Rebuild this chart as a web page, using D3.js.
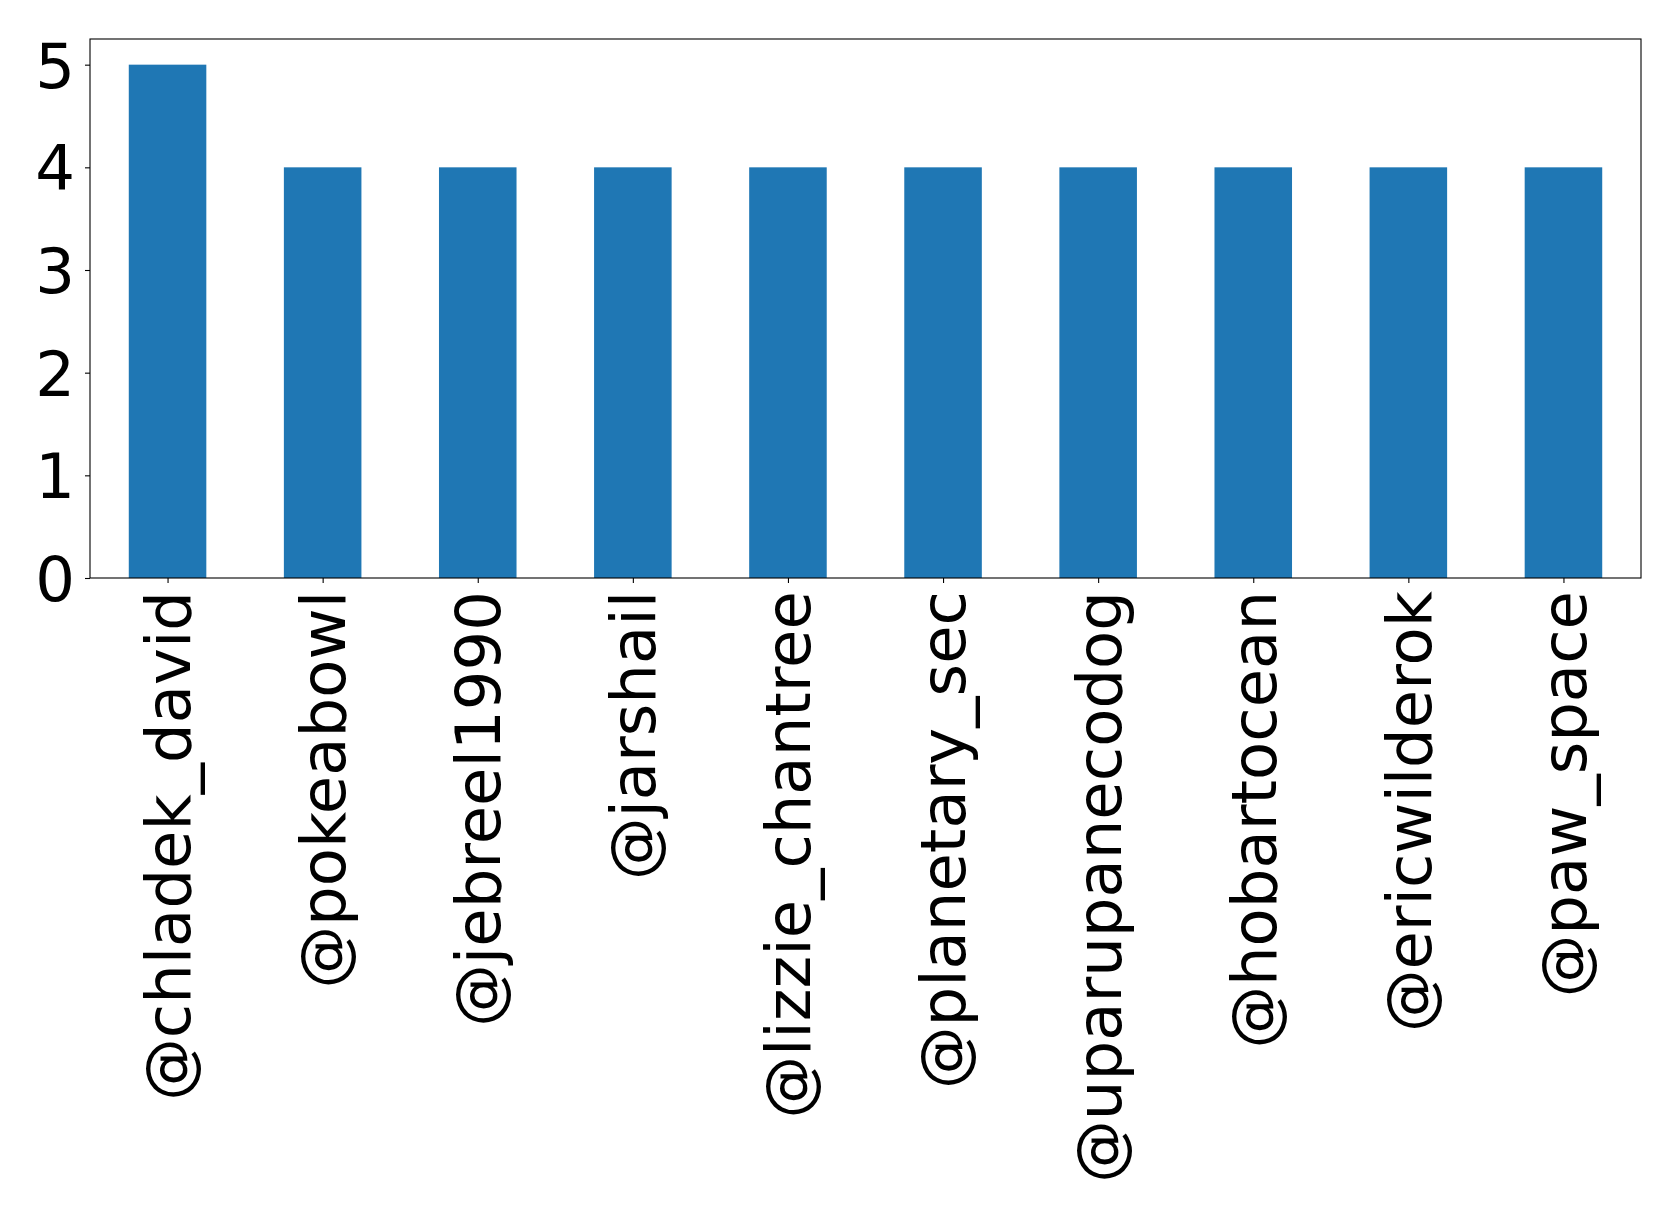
<!DOCTYPE html>
<meta charset="utf-8">
<style>

body {
  margin: 0;
  background: #fff;
}

.axis path,
.axis line {
  fill: none;
  stroke: #000;
  stroke-width: 1.1px;
}

.axis text {
  font-family: "DejaVu Sans", sans-serif;
  font-size: 62.5px;
  fill: #000;
}

.bar {
  fill: #1f77b4;
}

</style>
<body>
<svg width="1679" height="1219"></svg>
<script src="https://d3js.org/d3.v7.min.js"></script>
<script>

// Accounts and their counts
var accounts = ["@chladek_david", "@pokeabowl", "@jebreel1990", "@jarshail", "@lizzie_chantree",
                "@planetary_sec", "@uparupanecodog", "@hobartocean", "@ericwilderok", "@paw_space"];
var counts = [5, 4, 4, 4, 4, 4, 4, 4, 4, 4];
var yTicks = [0, 1, 2, 3, 4, 5];

var svg = d3.select("svg"),
    margin = {top: 39, right: 38, bottom: 641, left: 90},
    width = +svg.attr("width") - margin.left - margin.right,
    height = +svg.attr("height") - margin.top - margin.bottom;

// Bars at integer positions, axis from -0.5 to n-0.5 like pandas plots
var x = d3.scaleLinear().domain([-0.5, accounts.length - 0.5]).range([0, width]),
    y = d3.scaleLinear().domain([0, 5.25]).range([height, 0]);
var barWidth = x(0.5) - x(0);

var g = svg.append("g")
    .attr("transform", "translate(" + margin.left + "," + margin.top + ")");

g.selectAll(".bar")
  .data(counts)
  .enter().append("rect")
    .attr("class", "bar")
    .attr("x", function(d, i) { return x(i) - barWidth / 2; })
    .attr("width", barWidth)
    .attr("y", function(d) { return y(d); })
    .attr("height", function(d) { return y(0) - y(d); });

// X axis with rotated labels
var xAxis = g.append("g")
    .attr("class", "axis axis--x")
    .attr("transform", "translate(0," + height + ")")
    .call(d3.axisBottom(x)
      .tickValues(d3.range(accounts.length))
      .tickFormat(function(i) { return accounts[i]; })
      .tickSize(5)
      .tickSizeOuter(0));
xAxis.select(".domain").remove();
xAxis.selectAll("text")
    .attr("transform", "rotate(-90)")
    .attr("x", -13)
    .attr("y", 0)
    .attr("dy", "0.35em")
    .style("text-anchor", "end");

// Y axis
var yAxis = g.append("g")
    .attr("class", "axis axis--y")
    .call(d3.axisLeft(y).tickValues(yTicks).tickFormat(d3.format("d"))
      .tickSize(5).tickPadding(10).tickSizeOuter(0));
yAxis.select(".domain").remove();
yAxis.selectAll("text").attr("dy", "0.36em");

// Frame around the plot area
g.append("rect")
    .attr("width", width)
    .attr("height", height)
    .attr("fill", "none")
    .attr("stroke", "#000")
    .attr("stroke-width", 1.1);

</script>
